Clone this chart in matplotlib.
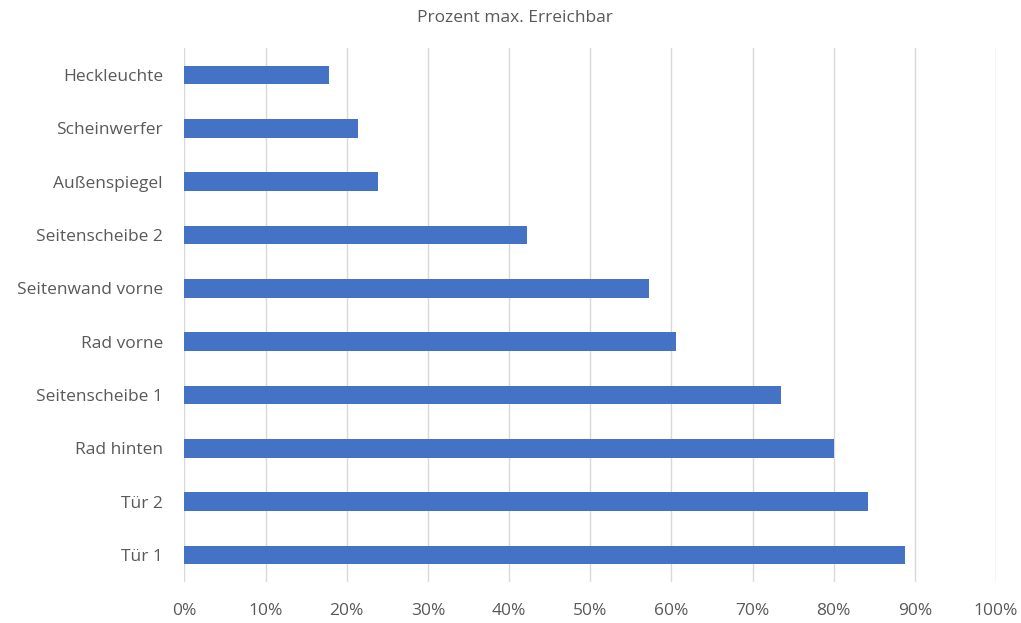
import matplotlib.pyplot as plt
import numpy as np

# categories from bottom to top
labels = ["Tür 1", "Tür 2", "Rad hinten", "Seitenscheibe 1", "Rad vorne",
          "Seitenwand vorne", "Seitenscheibe 2", "Außenspiegel",
          "Scheinwerfer", "Heckleuchte"]
values = [88.8, 84.2, 80.0, 73.5, 60.6, 57.2, 42.2, 23.9, 21.4, 17.8]
xticks = [0, 10, 20, 30, 40, 50, 60, 70, 80, 90, 100]
tick_labels = ["%d%%" % t for t in xticks]

plt.rcParams['font.family'] = ['Open Sans', 'DejaVu Sans']

fig = plt.figure(figsize=(10.21, 6.23), dpi=100)
ax = fig.add_axes([0.1807, 0.0663, 0.7948, 0.8562])

y = np.arange(len(labels))
ax.barh(y, values, height=0.35, color="#4472C4", zorder=3)

ax.set_xlim(0, 100)
ax.set_ylim(-0.5, len(labels) - 0.5)
ax.set_xticks(xticks)
ax.set_xticklabels(tick_labels, fontsize=12.5, color="#595959")
ax.set_yticks(y)
ax.set_yticklabels(labels, fontsize=12.5, color="#595959")
ax.tick_params(axis='x', length=0, pad=15)
ax.tick_params(axis='y', length=0, pad=15.5)
ax.grid(axis='x', color="#d9d9d9", linewidth=1, zorder=0)
for s in ax.spines.values():
    s.set_visible(False)

fig.text(0.5044, 1 - 18 / 623, "Prozent max. Erreichbar", ha="center", va="center",
         fontsize=12.5, color="#595959")

fig.savefig("out.png", dpi=100)
